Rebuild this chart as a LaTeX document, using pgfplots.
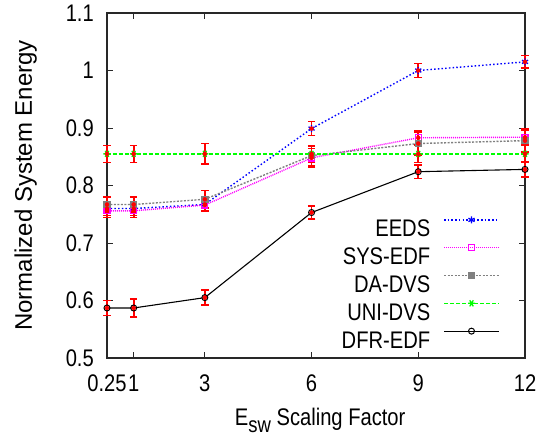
\documentclass[border=0pt]{standalone}
\usepackage{fontspec}
\setmainfont{Liberation Sans}[FakeStretch=0.84]
\newfontfamily\yfont{Liberation Sans}
\usepackage{pgfplots}
\pgfplotsset{compat=1.18}
\usepackage{pgfplotstable}
\usetikzlibrary{calc}
\definecolor{cBlue}{RGB}{0,0,255}
\definecolor{cMag}{RGB}{255,0,255}
\definecolor{cGray}{RGB}{128,128,128}
\definecolor{cGreen}{RGB}{0,255,0}
\definecolor{cRed}{RGB}{255,0,0}
\definecolor{cAxis}{RGB}{40,40,40}

% x  y  err
\pgfplotstableread{
x y e
0.25 0.760 0.012
1 0.760 0.012
3 0.767 0.012
6 0.899 0.012
9 1.000 0.012
12 1.015 0.011
}\eeds
\pgfplotstableread{
x y e
0.25 0.756 0.012
1 0.756 0.012
3 0.766 0.010
6 0.848 0.016
9 0.883 0.012
12 0.884 0.012
}\sysedf
\pgfplotstableread{
x y e
0.25 0.767 0.013
1 0.767 0.013
3 0.776 0.015
6 0.852 0.017
9 0.873 0.020
12 0.878 0.020
}\dadvs
\pgfplotstableread{
x y e
0.25 0.855 0.015
1 0.855 0.015
3 0.855 0.018
6 0.855 0.015
9 0.855 0.015
12 0.855 0.015
}\unidvs
\pgfplotstableread{
x y e
0.25 0.587 0.013
1 0.587 0.016
3 0.605 0.013
6 0.753 0.011
9 0.824 0.012
12 0.828 0.013
}\dfredf

\newcommand{\bigfont}{\fontsize{24bp}{28bp}\selectfont}

\begin{document}
\begin{tikzpicture}
\begin{axis}[
	name=ax,
	scale only axis,
	width=418bp,
	height=345bp,
	xmin=0.25, xmax=12,
	ymin=0.5, ymax=1.1,
	xtick={0.25,1,3,6,9,12},
	xticklabels={0.25,1,3,6,9,12},
	ytick={0.5,0.6,0.7,0.8,0.9,1.0,1.1},
	yticklabels={0.5,0.6,0.7,0.8,0.9,1,1.1},
	axis line style={cAxis, line width=1.4bp},
	tick style={cAxis, line width=1bp},
	major tick length=6bp,
	tick align=inside,
	tick label style={font=\bigfont, inner sep=0pt},
	xticklabel style={anchor=north, yshift=-17bp},
	yticklabel style={anchor=east, xshift=-13bp},
	every axis x label/.style={at={(rel axis cs:0.51,0)}, yshift=-67bp, anchor=base, inner sep=0pt, font=\bigfont},
	every axis y label/.style={at={(rel axis cs:0,0.5)}, xshift=-75bp, rotate=90, anchor=base, inner sep=0pt, font=\yfont\bigfont},
	xlabel={E\raisebox{-7bp}{\fontsize{22bp}{24bp}\selectfont sw} Scaling Factor},
	ylabel={Normalized System Energy},
	legend plot pos=right,
	legend cell align=right,
	legend style={draw=none, fill=none, inner sep=0pt, font=\bigfont,
		at={(rel axis cs:0.9402,0.028)}, anchor=south east,
		row sep=7.8bp, column sep=13bp,
		nodes={inner sep=0pt, text height=17bp, text depth=0pt}},
	legend image code/.code={
		\draw[mark repeat=2, mark phase=2, #1, yshift=8.5bp]
			plot coordinates {(0bp,0bp) (27.5bp,0bp) (55bp,0bp)};
	},
	clip=false,
	errred/.style={forget plot, cRed, only marks, mark=none,
		error bars/.cd, y dir=both, y explicit,
		error bar style={cRed, line width=1.8bp},
		error mark options={cRed, rotate=90, mark size=3.8bp, line width=1.5bp}},
]
\addplot[cBlue, line width=1.4bp, dash pattern=on 1.5bp off 2.2bp,
	mark=asterisk, mark size=3.5bp, mark options={solid, line width=1.3bp}]
	table[x=x, y=y] {\eeds};
\addlegendentry{EEDS}
\addplot[cMag, line width=1.4bp, dash pattern=on 1bp off 1bp,
	mark=square, mark size=3bp, mark options={solid, line width=1.3bp}]
	table[x=x, y=y] {\sysedf};
\addlegendentry{SYS-EDF}
\addplot[cGray, line width=1.4bp, dash pattern=on 2bp off 1.5bp,
	mark=square*, mark size=3bp, mark options={solid}]
	table[x=x, y=y] {\dadvs};
\addlegendentry{DA-DVS}
\addplot[cGreen, line width=1.6bp, dash pattern=on 4bp off 2bp,
	mark=asterisk, mark size=3.5bp, mark options={solid, rotate=90, line width=1.3bp}]
	table[x=x, y=y] {\unidvs};
\addlegendentry{UNI-DVS}
\addplot[black, line width=1.1bp,
	mark=o, mark size=3bp, mark options={solid, line width=1bp}]
	table[x=x, y=y] {\dfredf};
\addlegendentry{DFR-EDF}

% red error bars drawn on top of the lines
\addplot[errred] table[x=x, y=y, y error=e] {\eeds};
\addplot[errred] table[x=x, y=y, y error=e] {\sysedf};
\addplot[errred] table[x=x, y=y, y error=e] {\dadvs};
\addplot[errred] table[x=x, y=y, y error=e] {\unidvs};
\addplot[errred] table[x=x, y=y, y error=e] {\dfredf};
\end{axis}
\pgfresetboundingbox
\useasboundingbox ($(ax.south west)+(-107bp,-83bp)$) rectangle ($(ax.north east)+(15bp,13bp)$);
\end{tikzpicture}
\end{document}
